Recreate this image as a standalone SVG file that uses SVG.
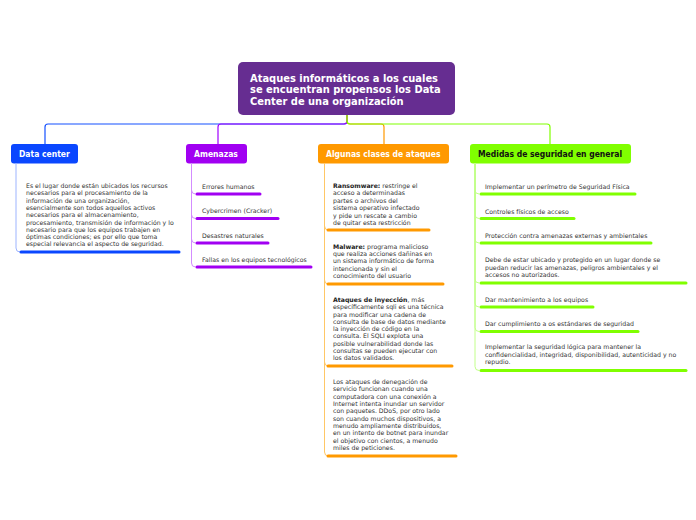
<svg xmlns="http://www.w3.org/2000/svg" width="696" height="520" viewBox="0 0 696 520">
<style>
text{font-family:"DejaVu Sans Condensed","DejaVu Sans",sans-serif;}
.t{font-size:11px;font-weight:bold;fill:#fff;}
.h{font-size:8.5px;font-weight:bold;fill:#fff;}
.s{font-family:"DejaVu Sans",sans-serif;font-size:6.2px;fill:#333;}
.s text{font-family:"DejaVu Sans",sans-serif;}
.b{font-weight:bold;fill:#222;}
.c{fill:none;stroke-width:1.2;}
.u{fill:none;stroke-width:3;stroke-linecap:round;}
.v{fill:none;stroke-width:1;}
</style>
<rect width="696" height="520" fill="#fff"/>
<g id="connectors">
<path class="c" stroke="#1450ff" d="M347,115 V121 Q347,124 344,124 H48 Q45,124 45,127 V144"/>
<path class="c" stroke="#a100ff" d="M347,115 V121 Q347,124 344,124 H221 Q218,124 218,127 V144"/>
<path class="c" stroke="#ff9900" d="M347,115 V121 Q347,124 350,124 H381 Q384,124 384,127 V144"/>
<path class="c" stroke="#80ff00" d="M347,115 V121 Q347,124 350,124 H547 Q550,124 550,127 V144"/>
</g>
<g id="root">
<rect x="238" y="62" width="217" height="53" rx="5" fill="#662d91"/>
<text class="t" x="250" y="81.5">Ataques informáticos a los cuales</text>
<text class="t" x="250" y="93">se encuentran propensos los Data</text>
<text class="t" x="250" y="104.5">Center de una organización</text>
</g>
<g id="datacenter">
<rect x="11" y="144" width="67" height="19.5" rx="3" fill="#0a47ff"/>
<text class="h" x="19" y="157">Data center</text>
<path class="v" stroke="#9db4ff" d="M16,163 V248 Q16,252 20,252"/>
<path class="u" stroke="#0a47ff" d="M21,252 H179"/>
<g class="s">
<text x="26" y="188">Es el lugar donde están ubicados los recursos</text>
<text x="26" y="195.3">necesarios para el procesamiento de la</text>
<text x="26" y="202.6">información de una organización,</text>
<text x="26" y="209.9">esencialmente son todos aquellos activos</text>
<text x="26" y="217.2">necesarios para el almacenamiento,</text>
<text x="26" y="224.5">procesamiento, transmisión de información y lo</text>
<text x="26" y="231.8">necesario para que los equipos trabajen en</text>
<text x="26" y="239.1">óptimas condiciones; es por ello que toma</text>
<text x="26" y="246.4">especial relevancia el aspecto de seguridad.</text>
</g>
</g>
<g id="amenazas">
<rect x="186" y="144" width="61" height="19.5" rx="3" fill="#a100f2"/>
<text class="h" x="194" y="157">Amenazas</text>
<g stroke="#d38cff" class="v">
<path d="M191.5,163 V190 Q191.5,194 195.5,194"/>
<path d="M191.5,163 V214.5 Q191.5,218.5 195.5,218.5"/>
<path d="M191.5,163 V239 Q191.5,243 195.5,243"/>
<path d="M191.5,163 V263 Q191.5,267 195.5,267"/>
</g>
<g stroke="#a100f2" class="u">
<path d="M197,194 H260"/>
<path d="M197,218.5 H278"/>
<path d="M197,243 H268"/>
<path d="M197,267 H311"/>
</g>
<g class="s">
<text x="202" y="189">Errores humanos</text>
<text x="202" y="213">Cybercrimen (Cracker)</text>
<text x="202" y="237.5">Desastres naturales</text>
<text x="202" y="262">Fallas en los equipos tecnológicos</text>
</g>
</g>
<g id="ataques">
<rect x="318" y="144" width="131" height="19.5" rx="3" fill="#ff9900"/>
<text class="h" x="326" y="157">Algunas clases de ataques</text>
<g stroke="#ffc766" class="v">
<path d="M324.5,163 V226 Q324.5,230 328.5,230"/>
<path d="M324.5,163 V280 Q324.5,284 328.5,284"/>
<path d="M324.5,163 V362 Q324.5,366 328.5,366"/>
<path d="M324.5,163 V452 Q324.5,456 328.5,456"/>
</g>
<g stroke="#ff9900" class="u">
<path d="M328,230 H429"/>
<path d="M328,284 H443"/>
<path d="M328,366 H452"/>
<path d="M328,456 H456"/>
</g>
<g class="s">
<text x="333" y="188"><tspan class="b">Ransomware:</tspan> restringe el</text>
<text x="333" y="195.4">acceso a determinadas</text>
<text x="333" y="202.8">partes o archivos del</text>
<text x="333" y="210.2">sistema operativo infectado</text>
<text x="333" y="217.6">y pide un rescate a cambio</text>
<text x="333" y="225">de quitar esta restricción</text>
<text x="333" y="248.5"><tspan class="b">Malware:</tspan> programa malicioso</text>
<text x="333" y="255.9">que realiza acciones dañinas en</text>
<text x="333" y="263.3">un sistema informático de forma</text>
<text x="333" y="270.7">intencionada y sin el</text>
<text x="333" y="278.1">conocimiento del usuario</text>
<text x="333" y="302"><tspan class="b">Ataques de inyección</tspan>, más</text>
<text x="333" y="309.25">específicamente sqli es una técnica</text>
<text x="333" y="316.5">para modificar una cadena de</text>
<text x="333" y="323.75">consulta de base de datos mediante</text>
<text x="333" y="331">la inyección de código en la</text>
<text x="333" y="338.25">consulta. El SQLI explota una</text>
<text x="333" y="345.5">posible vulnerabilidad donde las</text>
<text x="333" y="352.75">consultas se pueden ejecutar con</text>
<text x="333" y="360">los datos validados.</text>
<text x="333" y="384">Los ataques de denegación de</text>
<text x="333" y="391.33">servicio funcionan cuando una</text>
<text x="333" y="398.66">computadora con una conexión a</text>
<text x="333" y="406">Internet intenta inundar un servidor</text>
<text x="333" y="413.33">con paquetes. DDoS, por otro lado</text>
<text x="333" y="420.66">son cuando muchos dispositivos, a</text>
<text x="333" y="428">menudo ampliamente distribuidos,</text>
<text x="333" y="435.33">en un intento de botnet para inundar</text>
<text x="333" y="442.66">el objetivo con cientos, a menudo</text>
<text x="333" y="450">miles de peticiones.</text>
</g>
</g>
<g id="medidas">
<rect x="470" y="144" width="161" height="19.5" rx="3" fill="#80ff00"/>
<text class="h" x="478" y="157" style="fill:#111">Medidas de seguridad en general</text>
<g stroke="#c2ff8a" class="v">
<path d="M475,163 V190 Q475,194 479,194"/>
<path d="M475,163 V214.5 Q475,218.5 479,218.5"/>
<path d="M475,163 V239 Q475,243 479,243"/>
<path d="M475,163 V279 Q475,283 479,283"/>
<path d="M475,163 V303 Q475,307 479,307"/>
<path d="M475,163 V327.5 Q475,331.5 479,331.5"/>
<path d="M475,163 V366.5 Q475,370.5 479,370.5"/>
</g>
<g stroke="#80ff00" class="u">
<path d="M481,194 H635"/>
<path d="M481,218.5 H574"/>
<path d="M481,243 H651"/>
<path d="M481,283 H686"/>
<path d="M481,307 H593"/>
<path d="M481,331.5 H638"/>
<path d="M481,370.5 H686"/>
</g>
<g class="s">
<text x="485" y="189">Implementar un perímetro de Seguridad Física</text>
<text x="485" y="213.5">Controles físicos de acceso</text>
<text x="485" y="238">Protección contra amenazas externas y ambientales</text>
<text x="485" y="262">Debe de estar ubicado y protegido en un lugar donde se</text>
<text x="485" y="269.5">puedan reducir las amenazas, peligros ambientales y el</text>
<text x="485" y="277">accesos no autorizados.</text>
<text x="485" y="301.5">Dar mantenimiento a los equipos</text>
<text x="485" y="326">Dar cumplimiento a os estándares de seguridad</text>
<text x="485" y="349">Implementar la seguridad lógica para mantener la</text>
<text x="485" y="356.5">confidencialidad, integridad, disponibilidad, autenticidad y no</text>
<text x="485" y="364">repudio.</text>
</g>
</g>
</svg>
